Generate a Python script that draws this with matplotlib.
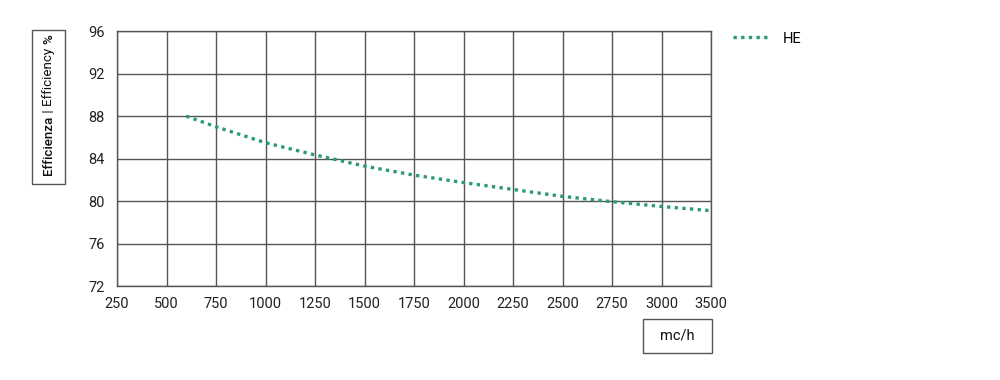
import numpy as np
import matplotlib
matplotlib.use("Agg")
import matplotlib.pyplot as plt
from matplotlib.patches import Rectangle

# Valori
tick_values = [250, 500, 750, 1000, 1250, 1500, 1750, 2000, 2250, 2500, 2750, 3000, 3500]
portata = [600, 750, 1000, 1250, 1500, 1750, 2000, 2250, 2500, 2750, 3000, 3500]
efficienza_he = [88.0, 87.0, 85.5, 84.35, 83.3, 82.45, 81.75, 81.1, 80.45, 79.95, 79.5, 79.1]
y_ticks = [72, 76, 80, 84, 88, 92, 96]

plt.rcParams['font.family'] = ['Roboto', 'DejaVu Sans']

fig = plt.figure(figsize=(10, 3.8), dpi=100)
ax = fig.add_axes([0.117, 0.247, 0.594, 0.671])

# asse x a passo costante (3000 -> 3500 occupa uno step)
pos = np.arange(len(tick_values))
x_pos = np.interp(portata, tick_values, pos)
ax.plot(x_pos, efficienza_he, color='#2a9a7c', lw=2.4, linestyle=(0, (1, 1.3)),
        label='HE')

ax.set_xlim(0, len(tick_values) - 1)
ax.set_ylim(72, 96)
ax.set_xticks(pos)
ax.set_xticklabels([str(v) for v in tick_values])
ax.set_yticks(y_ticks)
ax.grid(True, color='#555555', lw=1.0)
ax.set_axisbelow(True)
for s in ax.spines.values():
    s.set_color('#555555')
    s.set_linewidth(1.0)
ax.tick_params(length=0, labelsize=10.5, colors='#222222')
ax.tick_params(axis='y', pad=9)
ax.tick_params(axis='x', pad=8)

ax.legend(loc='upper left', bbox_to_anchor=(1.015, 1.05), frameon=False,
          handlelength=2.6, fontsize=10.5)

# etichetta asse y in un riquadro
fig.add_artist(Rectangle((32 / 1000, 1 - 184 / 380), 33 / 1000, 154 / 380,
                         transform=fig.transFigure, fill=False,
                         edgecolor='#555555', lw=1.0))
fig.canvas.draw()
renderer = fig.canvas.get_renderer()
y0 = 1 - 175 / 380
parts = [("Efficienza", 'medium'), (" | Efficiency ", 'normal'), ("%", 'medium')]
for txt, w in parts:
    t = fig.text(48.5 / 1000, y0, txt, rotation=90, ha='center', va='bottom',
                 fontsize=9.6, fontweight=w, color='#111111')
    bb = t.get_window_extent(renderer)
    y0 = bb.y1 / fig.bbox.height

# etichetta asse x in un riquadro
fig.add_artist(Rectangle((643 / 1000, 1 - 353 / 380), 69 / 1000, 34 / 380,
                         transform=fig.transFigure, fill=False,
                         edgecolor='#555555', lw=1.0))
fig.text(677.5 / 1000, 1 - 336 / 380, "mc/h", ha='center', va='center',
         fontsize=10.5, color='#111111')

fig.savefig("out.png", dpi=100)
